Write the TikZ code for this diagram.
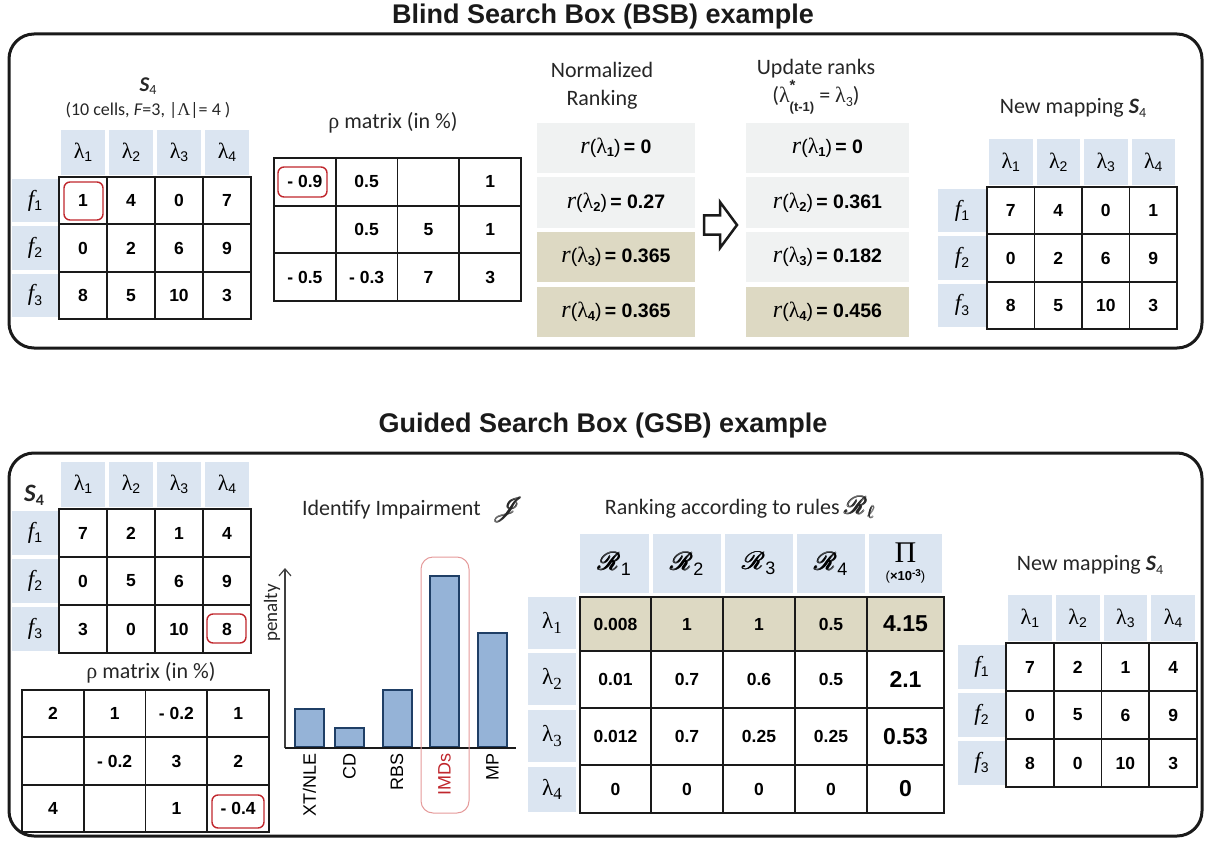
\documentclass[tikz,border=0pt]{standalone}
\usepackage{amsmath,amssymb,mathrsfs}
\usepackage{fontspec}
\setmainfont{Carlito}
\newfontfamily\arialf{Liberation Sans}
\newfontfamily\timesf{Liberation Serif}
\usetikzlibrary{arrows.meta}
\definecolor{hblue}{HTML}{DBE5F1}
\definecolor{tancol}{HTML}{DDD9C3}
\definecolor{lgray}{HTML}{F0F2F2}
\definecolor{barfill}{HTML}{95B3D7}
\definecolor{bardraw}{HTML}{1F3F66}
\definecolor{hired}{HTML}{C0272D}
\definecolor{softred}{HTML}{E59A9A}
\definecolor{ink}{HTML}{1A1A1A}

\newcommand\lam[1]{{\timesf\fontsize{22}{22}\selectfont λ}\raisebox{-0.35ex}{\fontsize{14}{14}\selectfont\arialf #1}}
\newcommand\ff[1]{{\timesf\itshape\fontsize{23}{23}\selectfont f}\raisebox{-0.45ex}{\fontsize{14}{14}\selectfont\arialf #1}}
\newcommand\Sf{{\bfseries\itshape S}\raisebox{-0.35ex}{\fontsize{14}{14}\selectfont 4}}
\newcommand\supsub[2]{\rlap{\raisebox{0.55em}{\fontsize{15}{15}\selectfont\arialf\bfseries #1}}\raisebox{-0.4em}{\fontsize{13}{13}\selectfont\arialf\bfseries #2}}
\newcommand\rl[2]{{\timesf\itshape\fontsize{24}{24}\selectfont r}{\arialf(}{\timesf\fontsize{22}{22}\selectfont λ}\raisebox{-0.35ex}{\fontsize{13}{13}\selectfont\arialf\bfseries #1}{\arialf)}\,{\arialf\bfseries = #2}}

\tikzset{
  boxframe/.style={draw=ink, line width=3, rounded corners=25},
  ttl/.style={font=\arialf\bfseries\fontsize{27}{30}\selectfont, text=ink},
  lbl/.style={font=\fontsize{22}{28}\selectfont, text=black!85, inner sep=0},
  hcell/.style={fill=hblue, draw=none, inner sep=0, font=\fontsize{19}{19}\selectfont},
  cell/.style={draw=ink, line width=1.8, inner sep=0, font=\arialf\bfseries\fontsize{17.5}{17.5}\selectfont},
  hlbox/.style={draw=hired, line width=1.4, rounded corners=6},
  rankbox/.style={inner sep=0, minimum height=50, font=\fontsize{19.5}{19.5}\selectfont},
  barnode/.style={fill=barfill, draw=bardraw, line width=2, minimum width=29, inner sep=0, anchor=south},
  barlbl/.style={rotate=90, anchor=east, inner sep=0, font=\arialf\fontsize{18}{18}\selectfont},
}

% S-type table: #1 prefix, #2 grid left, #3 grid top, #4 cw, #5 ch, #6 header top, #7 rowhead left, #8 rows
\newcommand\Stable[8]{%
  \foreach \k in {1,...,4}{
    \node[hcell, minimum width=#4-4, minimum height=#3-#6-2] (#1h\k) at ({#2+(\k-0.5)*#4},{(#6+#3-2)/2}) {\lam{\k}};
  }
  \foreach \k in {1,2,3}{
    \node[hcell, minimum width=#2-#7-1, minimum height=#5-4] (#1f\k) at ({(#7+#2-1)/2},{#3+(\k-0.5)*#5}) {\ff{\k}};
  }
  \foreach \row [count=\i] in {#8}{
    \foreach \v [count=\j] in \row {
      \node[cell, minimum width=#4, minimum height=#5] (#1c\i\j) at ({#2+(\j-0.5)*#4},{#3+(\i-0.5)*#5}) {\v};
    }
  }
}
% plain grid: #1 prefix, #2 left, #3 top, #4 cw, #5 ch, #6 rows
\newcommand\Ptable[6]{%
  \foreach \row [count=\i] in {#6}{
    \foreach \v [count=\j] in \row {
      \node[cell, minimum width=#4, minimum height=#5] (#1c\i\j) at ({#2+(\j-0.5)*#4},{#3+(\i-0.5)*#5}) {\v};
    }
  }
}
% ranking row: #1 row idx, #2 cy, #3 ch, #4 values, #5 fill
\newcommand\Rrow[5]{%
  \foreach \v [count=\j] in {#4}{
    \pgfmathsetmacro\cx{{615.5,687,759,831,905.5}[\j-1]}
    \pgfmathsetmacro\cw{{71,72,72,72,77}[\j-1]}
    \node[cell, fill=#5, minimum width=\cw, minimum height=#3] (rk\j#1) at (\cx,#2) {\ifnum\j=5 \fontsize{23}{23}\selectfont\fi\v};
  }
}

\begin{document}
\begin{tikzpicture}[x=1pt,y=-1pt]
\useasboundingbox (0,0) rectangle (1207,845);

% ---------------- titles and frames
\node[ttl, anchor=base] (t1) at (603,24) {Blind Search Box (BSB) example};
\draw[boxframe] (9,34) rectangle (1202,348);
\node[ttl, anchor=base] (t2) at (603,432) {Guided Search Box (GSB) example};
\draw[boxframe] (9,453) rectangle (1202,836);

% ---------------- BSB
\node[lbl, font=\fontsize{21}{21}\selectfont] (s4a) at (148,86) {\Sf};
\node[lbl, font=\fontsize{18}{20}\selectfont] (s4asub) at (148,110) {(10 cells, \textit{F}=3, |{\timesf Λ}|= 4 )};
\Stable{ta}{59}{177}{48}{47.33}{130}{12}{{1,4,0,7},{0,2,6,9},{8,5,10,3}}
\draw[hlbox] (64,182) rectangle (103,220);

\node[lbl] (rhoa) at (393,123) {{\timesf ρ} matrix (in \%)};
\Ptable{ra}{274}{158}{61.75}{47.67}{{- 0.9,0.5,,1},{,0.5,5,1},{- 0.5,- 0.3,7,3}}
\draw[hlbox] (278,167) rectangle (327,197);

\node[lbl, align=center] (nrl) at (602,86) {Normalized\\Ranking};
\node[rankbox, fill=lgray, minimum width=158] (n1) at (616,148) {\rl{1}{0}};
\node[rankbox, fill=lgray, minimum width=158] (n2) at (616,202.5) {\rl{2}{0.27}};
\node[rankbox, fill=tancol, minimum width=158] (n3) at (616,257) {\rl{3}{0.365}};
\node[rankbox, fill=tancol, minimum width=158] (n4) at (616,311.5) {\rl{4}{0.365}};

\draw[line width=2.5, draw=ink, line join=miter] (704,215.5) -- (720,215.5) -- (720,202) -- (737,225) -- (720,248) -- (720,234.5) -- (704,234.5) -- cycle;

\node[lbl, align=center] (upl) at (816,87) {Update ranks\\({\timesf λ}\supsub{*}{(t-1)} = {\timesf λ}\raisebox{-0.35ex}{\fontsize{14}{14}\selectfont 3})};
\node[rankbox, fill=lgray, minimum width=163] (u1) at (827.5,148) {\rl{1}{0}};
\node[rankbox, fill=lgray, minimum width=163] (u2) at (827.5,202.5) {\rl{2}{0.361}};
\node[rankbox, fill=lgray, minimum width=163] (u3) at (827.5,257) {\rl{3}{0.182}};
\node[rankbox, fill=tancol, minimum width=163] (u4) at (827.5,311.5) {\rl{4}{0.456}};

\node[lbl] (nma) at (1073,108) {New mapping \Sf};
\Stable{tb}{987}{187}{47.5}{47.33}{139}{938}{{7,4,0,1},{0,2,6,9},{8,5,10,3}}

% ---------------- GSB
\node[lbl, font=\fontsize{25}{25}\selectfont] (s4b) at (34,495) {{\bfseries\itshape S}\raisebox{-0.35ex}{\fontsize{16}{16}\selectfont\bfseries 4}};
\Stable{tc}{59}{509}{48}{48}{462}{12}{{7,2,1,4},{0,5,6,9},{3,0,10,8}}
\draw[hlbox] (207,614) rectangle (246,643);

\node[lbl] (rhob) at (151,673) {{\timesf ρ} matrix (in \%)};
\Ptable{rb}{22}{690}{61.75}{47.33}{{2,1,- 0.2,1},{,- 0.2,3,2},{4,,1,- 0.4}}
\draw[hlbox] (212,795) rectangle (264,828);

% bar chart
\node[lbl] (idl) at (413,510) {Identify Impairment\;\;{\fontsize{25}{25}\selectfont$\pmb{\mathscr{J}}$}};
\node[lbl, rotate=90, font=\fontsize{19}{19}\selectfont] (pen) at (272,613) {penalty};
\coordinate (ax0) at (285,748);
\coordinate (ax1) at (285,568);
\coordinate (ax2) at (516,748);
\draw[line width=1.2, draw=black!75, -{Straight Barb[length=7pt,width=12pt,line width=1.2pt]}] (ax0) -- (ax1);
\node[barnode, minimum height=38] (bxt) at (309.5,748) {};
\node[barnode, minimum height=19] (bcd) at (349.5,748) {};
\node[barnode, minimum height=57] (brbs) at (397,748) {};
\node[barnode, minimum height=171] (bimd) at (444.5,748) {};
\node[barnode, minimum height=114] (bmp) at (492.5,748) {};
\draw[line width=2, draw=ink] (ax0) -- (ax2);
\node[barlbl] (lxt) at (309.5,753) {XT/NLE};
\node[barlbl] (lcd) at (349.5,753) {CD};
\node[barlbl] (lrbs) at (397,753) {RBS};
\node[barlbl, text=hired] (limd) at (444.5,753) {IMDs};
\node[barlbl] (lmp) at (492.5,753) {MP};
\draw[draw=softred, line width=1, rounded corners=12] (421,557) rectangle (469,813);

% ranking table
\node[lbl] (rkl) at (740,507) {Ranking according to rules {\fontsize{25}{25}\selectfont$\pmb{\mathscr{R}}_{\pmb{\ell}}$}};
\node[hcell, minimum width=69, minimum height=59, font=\fontsize{26}{26}\selectfont] (rh1) at (614.5,563.5) {$\pmb{\mathscr{R}}$\raisebox{-0.4ex}{\arialf\fontsize{18}{18}\selectfont 1}};
\node[hcell, minimum width=68, minimum height=59, font=\fontsize{26}{26}\selectfont] (rh2) at (687,563.5) {$\pmb{\mathscr{R}}$\raisebox{-0.4ex}{\arialf\fontsize{18}{18}\selectfont 2}};
\node[hcell, minimum width=68, minimum height=59, font=\fontsize{26}{26}\selectfont] (rh3) at (759,563.5) {$\pmb{\mathscr{R}}$\raisebox{-0.4ex}{\arialf\fontsize{18}{18}\selectfont 3}};
\node[hcell, minimum width=68, minimum height=59, font=\fontsize{26}{26}\selectfont] (rh4) at (831,563.5) {$\pmb{\mathscr{R}}$\raisebox{-0.4ex}{\arialf\fontsize{18}{18}\selectfont 4}};
\node[hcell, minimum width=73, minimum height=59, align=center] (rh5) at (905.5,563.5) {{\timesf\fontsize{30}{24}\selectfont Π}\\[-1pt]{\arialf\fontsize{13}{13}\selectfont (\textbf{×10}\raisebox{0.6ex}{\fontsize{10}{10}\selectfont\textbf{-3}})}};
\node[hcell, minimum width=48, minimum height=52, font=\timesf\fontsize{23}{23}\selectfont] (rl1) at (552,623) {λ\raisebox{-0.4ex}{\fontsize{17}{17}\selectfont 1}};
\node[hcell, minimum width=48, minimum height=52, font=\timesf\fontsize{23}{23}\selectfont] (rl2) at (552,679) {λ\raisebox{-0.4ex}{\fontsize{17}{17}\selectfont 2}};
\node[hcell, minimum width=48, minimum height=52, font=\timesf\fontsize{23}{23}\selectfont] (rl3) at (552,736) {λ\raisebox{-0.4ex}{\fontsize{17}{17}\selectfont 3}};
\node[hcell, minimum width=48, minimum height=45, font=\timesf\fontsize{23}{23}\selectfont] (rl4) at (552,789.5) {λ\raisebox{-0.4ex}{\fontsize{17}{17}\selectfont 4}};
\Rrow{1}{624}{54}{0.008,1,1,0.5,4.15}{tancol}
\Rrow{2}{679.5}{57}{0.01,0.7,0.6,0.5,2.1}{white}
\Rrow{3}{736.5}{57}{0.012,0.7,0.25,0.25,0.53}{white}
\Rrow{4}{789}{48}{0,0,0,0,0}{white}

\node[lbl] (nmb) at (1090,565) {New mapping \Sf};
\Stable{td}{1006}{643}{47.75}{48}{595}{958}{{7,2,1,4},{0,5,6,9},{8,0,10,3}}
\end{tikzpicture}
\end{document}
